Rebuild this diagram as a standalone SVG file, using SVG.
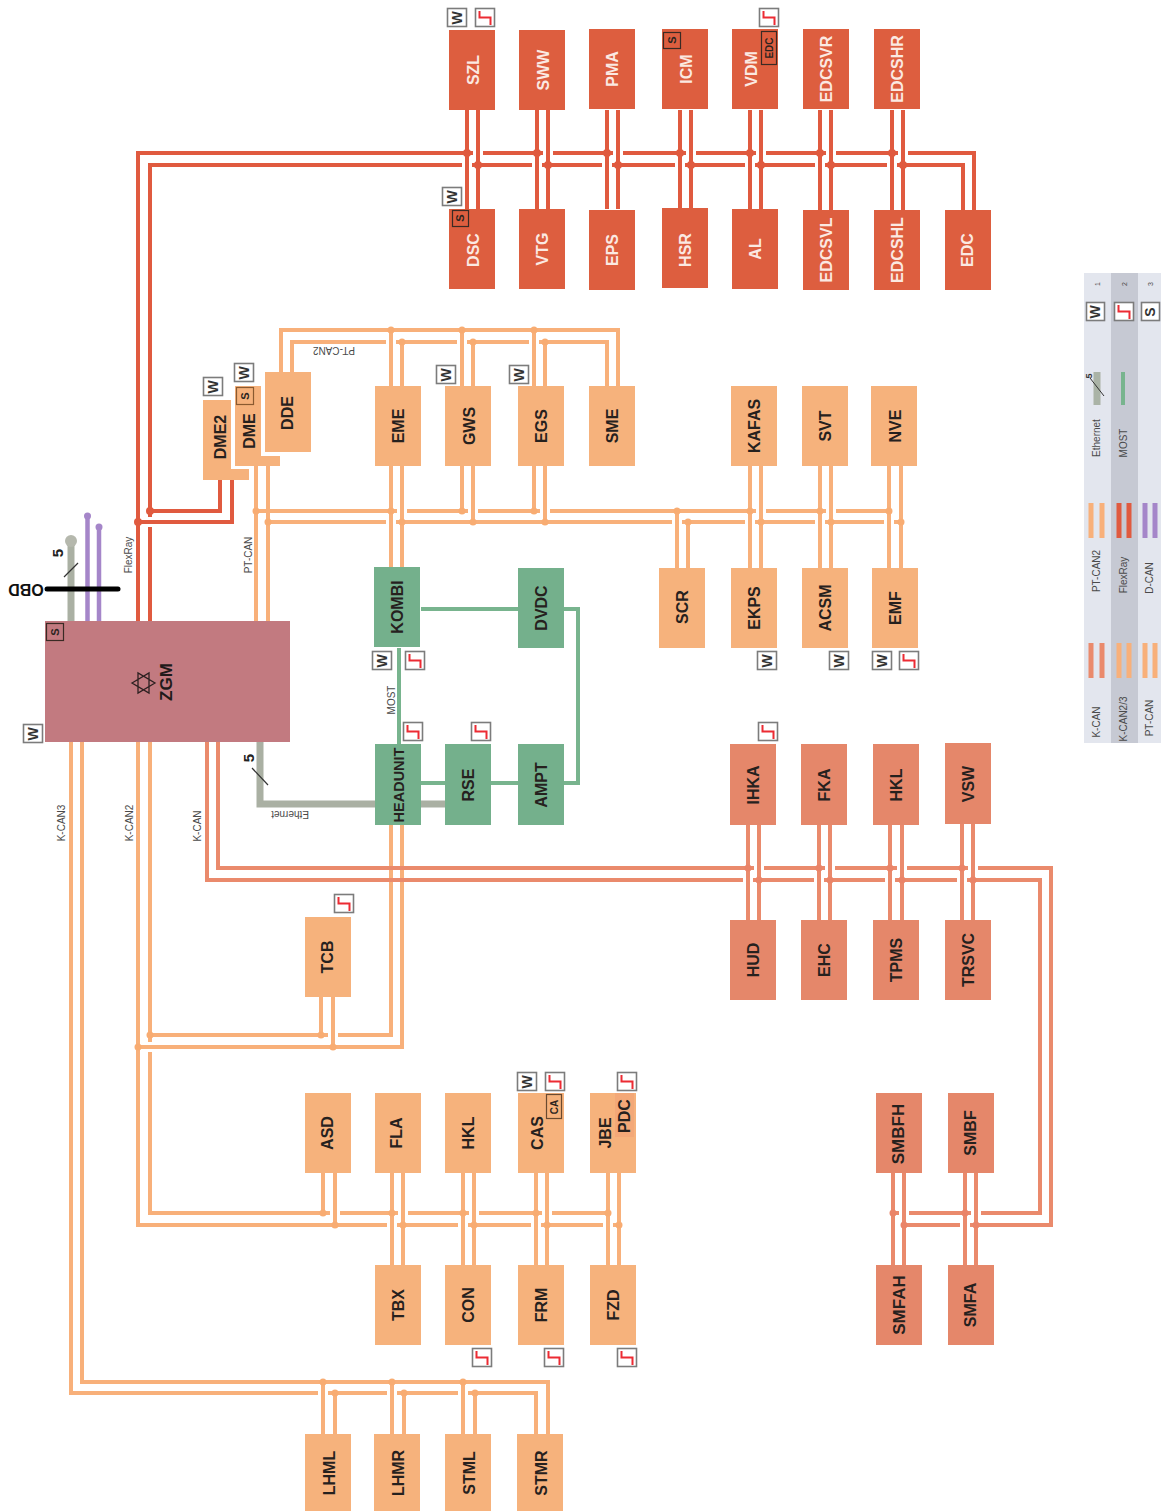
<svg xmlns="http://www.w3.org/2000/svg" width="1161" height="1511" viewBox="0 0 1161 1511">
<style>
text{font-family:"Liberation Sans",Arial,sans-serif}
.n{font-weight:700;font-size:16px;text-anchor:middle;fill:#26211e}
.nw{font-weight:700;font-size:16px;text-anchor:middle;fill:#fbe9e2}
.l{font-size:10px;text-anchor:middle;fill:#4a4a4a}
.fr{fill:#dd5e3f}.or{fill:#f6b27c}.gr{fill:#74b08c}.kc{fill:#e5876a}
.c{fill:none;stroke-width:4}
.cfr{stroke:#e05a3f}.cor{stroke:#f8b07a}.ckc{stroke:#ea8a6c}.cgr{stroke:#78b48e}
.dfr{fill:#e05a3f}.dor{fill:#f8ac72}.dkc{fill:#ea8468}
.bd{fill:#fff;stroke:#7c7c7c;stroke-width:1.6}
.bt{font-weight:700;font-size:14px;text-anchor:middle;fill:#333}
.tag{fill:none;stroke:#3a2a24;stroke-width:1.2}
.tt{font-weight:700;font-size:10px;text-anchor:middle;fill:#2c2420}
.st{fill:none;stroke:#ec2b33;stroke-width:2}
</style>
<defs>
<g id="step"><rect class="bd" x="0.5" y="0.5" width="19" height="18"/><path class="st" d="M4.5 3V9.500H15.500V17"/></g>
</defs>

<g id="legend">
<rect x="1084" y="273" width="77" height="470" fill="#e3e6ee"/>
<rect x="1111" y="273" width="27" height="470" fill="#c6c9d3"/>
<text class="l" style="font-size:7px" transform="translate(1100,284) rotate(-90)">1</text>
<text class="l" style="font-size:7px" transform="translate(1127,284) rotate(-90)">2</text>
<text class="l" style="font-size:7px" transform="translate(1153,284) rotate(-90)">3</text>
<g transform="translate(1086,302)"><rect class="bd" x="0.5" y="0.5" width="18" height="18"/><text class="bt" transform="translate(14,10) rotate(-90)">W</text></g>
<use href="#step" x="1114" y="302"/>
<g transform="translate(1141,302)"><rect class="bd" x="0.5" y="0.5" width="18" height="18"/><text class="bt" transform="translate(14,10) rotate(-90)">S</text></g>
<path d="M1097 372V405" stroke="#aab3a6" stroke-width="7" fill="none"/>
<path d="M1090 378L1104 396" stroke="#333" stroke-width="1" fill="none"/>
<text class="bt" style="font-size:9px" transform="translate(1092,376) rotate(-90)">5</text>
<path d="M1123 372V405" stroke="#78b48e" stroke-width="4" fill="none"/>
<path d="M1091 503V538M1102 503V538" stroke="#f8b07a" stroke-width="5" fill="none"/>
<path d="M1119 503V538M1129 503V538" stroke="#e05a3f" stroke-width="5" fill="none"/>
<path d="M1145 503V538M1155 503V538" stroke="#a586c9" stroke-width="5" fill="none"/>
<path d="M1091 643V678M1102 643V678" stroke="#ea8a6c" stroke-width="5" fill="none"/>
<path d="M1119 643V678M1129 643V678M1145 643V678M1155 643V678" stroke="#f8b07a" stroke-width="5" fill="none"/>
<text class="l" transform="translate(1100,438) rotate(-90)">Ethernet</text>
<text class="l" transform="translate(1127,443) rotate(-90)">MOST</text>
<text class="l" transform="translate(1100,571) rotate(-90)">PT-CAN2</text>
<text class="l" transform="translate(1127,575) rotate(-90)">FlexRay</text>
<text class="l" transform="translate(1153,578) rotate(-90)">D-CAN</text>
<text class="l" transform="translate(1100,722) rotate(-90)">K-CAN</text>
<text class="l" transform="translate(1127,719) rotate(-90)">K-CAN2/3</text>
<text class="l" transform="translate(1153,718) rotate(-90)">PT-CAN</text>
</g>

<g id="connectors">
<g id="obd">
<path d="M71 541V621" stroke="#aab0a3" stroke-width="7" fill="none"/>
<circle cx="71" cy="541" r="6" fill="#b5b8ad"/>
<path d="M87.500 516V621M99 527V621" stroke="#a586c9" stroke-width="4.500" fill="none"/>
<circle cx="87.500" cy="516" r="3.500" fill="#a586c9"/><circle cx="99" cy="527" r="3.500" fill="#a586c9"/>
<path d="M47 589H118" stroke="#000" stroke-width="5" stroke-linecap="round" fill="none"/>
<path d="M64 577L78 563" stroke="#333" stroke-width="1.200" fill="none"/>
</g>
<g id="ethernet">
<path d="M260 742V804H375M421 804H445" stroke="#aab0a3" stroke-width="7" fill="none"/>
<path d="M252 768L268 785" stroke="#333" stroke-width="1.200" fill="none"/>
</g>
<g id="most" class="c cgr">
<path d="M399 648V744M421 609H518M564 609H578V783H564M518 783H491M445 783H421"/>
</g>
<g id="flexray" class="c cfr">
<path d="M138 621V153H473M483 153H543M553 153H613M623 153H686M696 153H756M766 153H826M836 153H898M908 153H974V210"/>
<path d="M150 621V527M150 517V165H462M472 165H532M542 165H602M612 165H675M685 165H745M755 165H815M825 165H887M897 165H963V210"/>
<path d="M220 480V511H150M232 480V522H138"/>
<path d="M467 110V209M478 110V209M537 110V209M548 110V209M607 110V209M618 110V209M680 110V209M691 110V209M750 110V209M761 110V209M820 110V210M831 110V210M892 110V210M903 110V210"/>
</g>
<g class="dfr">
<circle cx="467" cy="153" r="4"/><circle cx="478" cy="165" r="4"/><circle cx="537" cy="153" r="4"/><circle cx="548" cy="165" r="4"/><circle cx="607" cy="153" r="4"/><circle cx="618" cy="165" r="4"/><circle cx="680" cy="153" r="4"/><circle cx="691" cy="165" r="4"/><circle cx="750" cy="153" r="4"/><circle cx="761" cy="165" r="4"/><circle cx="820" cy="153" r="4"/><circle cx="831" cy="165" r="4"/><circle cx="892" cy="153" r="4"/><circle cx="903" cy="165" r="4"/><circle cx="150" cy="511" r="4"/><circle cx="138" cy="522" r="4"/>
</g>
<g id="ptcan2" class="c cor">
<path d="M281 372V330H618V386"/>
<path d="M292 372V342H386M396 342H457M467 342H529M539 342H607V386"/>
<path d="M391 330V386M402 342V386M462 330V386M473 342V386M534 330V386M545 342V386"/>
</g>
<g id="ptcan" class="c cor">
<path d="M256 466V621M268 466V621"/>
<path d="M256 511H397M407 511H468M478 511H540M550 511H756M766 511H826M836 511H889"/>
<path d="M268 522H386M396 522H672M682 522H745M755 522H815M825 522H884M894 522H901"/>
<path d="M391 466V568M402 466V568M462 466V511M473 466V522M534 466V511M545 466V522M677 511V568M688 522V568M750 466V568M761 466V568M820 466V568M831 466V568M889 466V568M901 466V568"/>
</g>
<g class="dor">
<circle cx="391" cy="330" r="3.500"/><circle cx="402" cy="342" r="3.500"/><circle cx="462" cy="330" r="3.500"/><circle cx="473" cy="342" r="3.500"/><circle cx="534" cy="330" r="3.500"/><circle cx="545" cy="342" r="3.500"/>
<circle cx="256" cy="511" r="3.500"/><circle cx="268" cy="522" r="3.500"/><circle cx="391" cy="511" r="3.500"/><circle cx="402" cy="522" r="3.500"/><circle cx="462" cy="511" r="3.500"/><circle cx="473" cy="522" r="3.500"/><circle cx="534" cy="511" r="3.500"/><circle cx="545" cy="522" r="3.500"/><circle cx="677" cy="511" r="3.500"/><circle cx="688" cy="522" r="3.500"/><circle cx="750" cy="511" r="3.500"/><circle cx="761" cy="522" r="3.500"/><circle cx="820" cy="511" r="3.500"/><circle cx="831" cy="522" r="3.500"/><circle cx="889" cy="511" r="3.500"/><circle cx="901" cy="522" r="3.500"/>
</g>
<g id="kcan2" class="c cor">
<path d="M150 742V1042M150 1052V1213H330M340 1213H398M408 1213H469M479 1213H542M552 1213H608"/>
<path d="M138 742V1225H387M397 1225H458M468 1225H531M541 1225H603M613 1225H619"/>
<path d="M150 1035H328M338 1035H391V825M138 1047H402V825"/>
<path d="M321 997V1035M333 997V1047"/>
<path d="M323 1173V1213M335 1173V1225M392 1173V1265M403 1173V1265M463 1173V1265M474 1173V1265M536 1173V1265M547 1173V1265M608 1173V1265M619 1173V1265"/>
</g>
<g id="kcan3" class="c cor">
<path d="M71 742V1393H318M328 1393H387M397 1393H458M468 1393H536V1434"/>
<path d="M82 742V1382H548V1434"/>
<path d="M323 1382V1434M335 1393V1434M392 1382V1434M404 1393V1434M463 1382V1434M475 1393V1434"/>
</g>
<g class="dor">
<circle cx="150" cy="1035" r="3.500"/><circle cx="138" cy="1047" r="3.500"/><circle cx="321" cy="1035" r="3.500"/><circle cx="333" cy="1047" r="3.500"/>
<circle cx="323" cy="1213" r="3.500"/><circle cx="335" cy="1225" r="3.500"/><circle cx="392" cy="1213" r="3.500"/><circle cx="403" cy="1225" r="3.500"/><circle cx="463" cy="1213" r="3.500"/><circle cx="474" cy="1225" r="3.500"/><circle cx="536" cy="1213" r="3.500"/><circle cx="547" cy="1225" r="3.500"/><circle cx="608" cy="1213" r="3.500"/><circle cx="619" cy="1225" r="3.500"/>
<circle cx="323" cy="1382" r="3.500"/><circle cx="335" cy="1393" r="3.500"/><circle cx="392" cy="1382" r="3.500"/><circle cx="404" cy="1393" r="3.500"/><circle cx="463" cy="1382" r="3.500"/><circle cx="475" cy="1393" r="3.500"/>
</g>
<g id="kcan" class="c ckc">
<path d="M218 742V868H754M764 868H825M835 868H897M907 868H968M978 868H1051V1225H970M960 1225H904"/>
<path d="M207 742V880H743M753 880H814M824 880H885M895 880H957M967 880H1040V1213H981M971 1213H909M899 1213H893"/>
<path d="M748 824V920M759 824V920M819 824V920M830 824V920M890 824V920M902 824V920M962 824V920M973 824V920M893 1173V1265M904 1173V1265M965 1173V1265M976 1173V1265"/>
</g>
<g class="dkc">
<circle cx="748" cy="868" r="3.500"/><circle cx="759" cy="880" r="3.500"/><circle cx="819" cy="868" r="3.500"/><circle cx="830" cy="880" r="3.500"/><circle cx="890" cy="868" r="3.500"/><circle cx="902" cy="880" r="3.500"/><circle cx="962" cy="868" r="3.500"/><circle cx="973" cy="880" r="3.500"/>
<circle cx="893" cy="1213" r="3.500"/><circle cx="904" cy="1225" r="3.500"/><circle cx="965" cy="1213" r="3.500"/><circle cx="976" cy="1225" r="3.500"/>
</g>
<g id="bus-labels">
<text class="l" transform="translate(132,555) rotate(-90)">FlexRay</text>
<text class="l" transform="translate(252,555) rotate(-90)">PT-CAN</text>
<text class="l" transform="translate(65,823) rotate(-90)">K-CAN3</text>
<text class="l" transform="translate(133,823) rotate(-90)">K-CAN2</text>
<text class="l" transform="translate(201,826) rotate(-90)">K-CAN</text>
<text class="l" transform="translate(395,700) rotate(-90)">MOST</text>
<text class="l" transform="translate(290,811) rotate(180)">Ethernet</text>
<text class="l" transform="translate(334,347) rotate(180)">PT-CAN2</text>
<text font-weight="700" font-size="15" text-anchor="middle" fill="#222" transform="translate(63,553) rotate(-90)">5</text>
<text font-weight="700" font-size="15" text-anchor="middle" fill="#222" transform="translate(254,758) rotate(-90)">5</text>
<text font-weight="700" font-size="16" text-anchor="middle" fill="#111" transform="translate(26,584) rotate(180)">OBD</text>
</g>
</g>

<g id="ZGM"><rect x="45" y="621" width="245" height="121" fill="#c27a80"/>
<path d="M132 683L149 673V693ZM155 683L138 693V673Z" fill="none" stroke="#2c2020" stroke-width="1.300"/>
<text font-weight="700" font-size="17" text-anchor="middle" fill="#1f1a1a" transform="translate(172,682) rotate(-90)">ZGM</text>
<rect class="tag" x="46.500" y="623.500" width="17" height="17"/><text class="tt" style="font-size:11px" transform="translate(59,632) rotate(-90)">S</text>
<g transform="translate(23,724)"><rect class="bd" x="0.5" y="0.500" width="19" height="18"/><text class="bt" transform="translate(15,10) rotate(-90)">W</text></g>
</g>

<g id="SZL"><rect class="fr" x="449" y="30" width="46" height="80"/><text class="nw" transform="translate(479,70) rotate(-90)">SZL</text>
<g transform="translate(447,8)"><rect class="bd" x="0.5" y="0.5" width="19" height="18"/><text class="bt" transform="translate(15,10) rotate(-90)">W</text></g><use href="#step" x="475" y="8"/></g>
<g id="SWW"><rect class="fr" x="519" y="30" width="46" height="80"/><text class="nw" transform="translate(549,70) rotate(-90)">SWW</text></g>
<g id="PMA"><rect class="fr" x="589" y="29" width="46" height="80"/><text class="nw" transform="translate(618,69) rotate(-90)">PMA</text></g>
<g id="ICM"><rect class="fr" x="662" y="29" width="46" height="80"/><text class="nw" transform="translate(692,69) rotate(-90)">ICM</text>
<rect class="tag" x="663.500" y="32.500" width="17" height="16"/><text class="tt" style="font-size:11px" transform="translate(676,40) rotate(-90)">S</text></g>
<g id="VDM"><rect class="fr" x="732" y="29" width="46" height="80"/><text class="nw" transform="translate(757,69) rotate(-90)">VDM</text>
<rect class="tag" x="761.500" y="31.500" width="15" height="33"/><text class="tt" transform="translate(773,48) rotate(-90)">EDC</text><use href="#step" x="759" y="8"/></g>
<g id="EDCSVR"><rect class="fr" x="803" y="29" width="46" height="80"/><text class="nw" transform="translate(832,69) rotate(-90)">EDCSVR</text></g>
<g id="EDCSHR"><rect class="fr" x="874" y="29" width="46" height="80"/><text class="nw" transform="translate(903,69) rotate(-90)">EDCSHR</text></g>
<g id="DSC"><rect class="fr" x="449" y="209" width="46" height="80"/><text class="nw" transform="translate(479,250) rotate(-90)">DSC</text>
<rect class="tag" x="452.500" y="210.500" width="16" height="16"/><text class="tt" style="font-size:11px" transform="translate(464,218) rotate(-90)">S</text>
<g transform="translate(442,187)"><rect class="bd" x="0.5" y="0.5" width="19" height="18"/><text class="bt" transform="translate(15,10) rotate(-90)">W</text></g></g>
<g id="VTG"><rect class="fr" x="519" y="209" width="46" height="80"/><text class="nw" transform="translate(548,249) rotate(-90)">VTG</text></g>
<g id="EPS"><rect class="fr" x="589" y="210" width="46" height="80"/><text class="nw" transform="translate(618,250) rotate(-90)">EPS</text></g>
<g id="HSR"><rect class="fr" x="662" y="208" width="46" height="80"/><text class="nw" transform="translate(691,250) rotate(-90)">HSR</text></g>
<g id="AL"><rect class="fr" x="732" y="209" width="46" height="80"/><text class="nw" transform="translate(761,249) rotate(-90)">AL</text></g>
<g id="EDCSVL"><rect class="fr" x="803" y="210" width="46" height="80"/><text class="nw" transform="translate(832,250) rotate(-90)">EDCSVL</text></g>
<g id="EDCSHL"><rect class="fr" x="874" y="210" width="46" height="80"/><text class="nw" transform="translate(903,250) rotate(-90)">EDCSHL</text></g>
<g id="EDC"><rect class="fr" x="945" y="210" width="46" height="80"/><text class="nw" transform="translate(973,250) rotate(-90)">EDC</text></g>

<g id="DME2"><path class="or" d="M203 400H231V469H249V480H203Z"/><text class="n" transform="translate(226,437) rotate(-90)">DME2</text>
<g transform="translate(203,377)"><rect class="bd" x="0.5" y="0.5" width="19" height="18"/><text class="bt" transform="translate(15,10) rotate(-90)">W</text></g></g>
<g id="DME"><path class="or" d="M235 386H261V456H280V466H235Z"/><text class="n" transform="translate(255,431) rotate(-90)">DME</text>
<rect class="tag" x="236.500" y="387.500" width="17" height="17" style="stroke:#8a5a30"/><text class="tt" style="font-size:11px" transform="translate(249,396) rotate(-90)">S</text>
<g transform="translate(234,363)"><rect class="bd" x="0.5" y="0.5" width="19" height="18"/><text class="bt" transform="translate(15,10) rotate(-90)">W</text></g></g>
<g id="DDE"><rect class="or" x="265" y="372" width="46" height="80"/><text class="n" transform="translate(293,413) rotate(-90)">DDE</text></g>
<g id="EME"><rect class="or" x="375" y="386" width="46" height="80"/><text class="n" transform="translate(404,426) rotate(-90)">EME</text></g>
<g id="GWS"><rect class="or" x="445" y="386" width="46" height="80"/><text class="n" transform="translate(475,426) rotate(-90)">GWS</text>
<g transform="translate(436,365)"><rect class="bd" x="0.5" y="0.5" width="19" height="18"/><text class="bt" transform="translate(15,10) rotate(-90)">W</text></g></g>
<g id="EGS"><rect class="or" x="518" y="386" width="46" height="80"/><text class="n" transform="translate(547,426) rotate(-90)">EGS</text>
<g transform="translate(509,365)"><rect class="bd" x="0.5" y="0.5" width="19" height="18"/><text class="bt" transform="translate(15,10) rotate(-90)">W</text></g></g>
<g id="SME"><rect class="or" x="589" y="386" width="46" height="80"/><text class="n" transform="translate(618,426) rotate(-90)">SME</text></g>
<g id="KAFAS"><rect class="or" x="731" y="386" width="46" height="80"/><text class="n" transform="translate(760,426) rotate(-90)">KAFAS</text></g>
<g id="SVT"><rect class="or" x="802" y="386" width="46" height="80"/><text class="n" transform="translate(831,426) rotate(-90)">SVT</text></g>
<g id="NVE"><rect class="or" x="871" y="386" width="46" height="80"/><text class="n" transform="translate(901,426) rotate(-90)">NVE</text></g>
<g id="SCR"><rect class="or" x="659" y="568" width="46" height="80"/><text class="n" transform="translate(688,607) rotate(-90)">SCR</text></g>
<g id="EKPS"><rect class="or" x="731" y="568" width="46" height="80"/><text class="n" transform="translate(760,608) rotate(-90)">EKPS</text>
<g transform="translate(757,651)"><rect class="bd" x="0.5" y="0.5" width="19" height="18"/><text class="bt" transform="translate(15,10) rotate(-90)">W</text></g></g>
<g id="ACSM"><rect class="or" x="802" y="568" width="46" height="80"/><text class="n" transform="translate(831,608) rotate(-90)">ACSM</text>
<g transform="translate(829,651)"><rect class="bd" x="0.5" y="0.5" width="19" height="18"/><text class="bt" transform="translate(15,10) rotate(-90)">W</text></g></g>
<g id="EMF"><rect class="or" x="872" y="568" width="46" height="80"/><text class="n" transform="translate(901,608) rotate(-90)">EMF</text>
<g transform="translate(872,651)"><rect class="bd" x="0.5" y="0.5" width="19" height="18"/><text class="bt" transform="translate(15,10) rotate(-90)">W</text></g><use href="#step" x="899" y="651"/></g>

<g id="KOMBI"><rect class="gr" x="374" y="567" width="46" height="80"/><text class="n" transform="translate(403,607) rotate(-90)">KOMBI</text>
<g transform="translate(372,651)"><rect class="bd" x="0.5" y="0.5" width="19" height="18"/><text class="bt" transform="translate(15,10) rotate(-90)">W</text></g><use href="#step" x="405" y="651"/></g>
<g id="DVDC"><rect class="gr" x="518" y="568" width="46" height="80"/><text class="n" transform="translate(547,608) rotate(-90)">DVDC</text></g>
<g id="HEADUNIT"><rect class="gr" x="375" y="744" width="46" height="81"/><text class="n" style="font-size:14.500px" transform="translate(404,785) rotate(-90)">HEADUNIT</text><use href="#step" x="403" y="722"/></g>
<g id="RSE"><rect class="gr" x="445" y="744" width="46" height="81"/><text class="n" transform="translate(474,785) rotate(-90)">RSE</text><use href="#step" x="471" y="722"/></g>
<g id="AMPT"><rect class="gr" x="518" y="744" width="46" height="81"/><text class="n" transform="translate(547,785) rotate(-90)">AMPT</text></g>

<g id="IHKA"><rect class="kc" x="730" y="744" width="46" height="81"/><text class="n" transform="translate(759,785) rotate(-90)">IHKA</text><use href="#step" x="758" y="722"/></g>
<g id="FKA"><rect class="kc" x="801" y="744" width="46" height="81"/><text class="n" transform="translate(830,785) rotate(-90)">FKA</text></g>
<g id="HKL1"><rect class="kc" x="873" y="744" width="46" height="81"/><text class="n" transform="translate(902,785) rotate(-90)">HKL</text></g>
<g id="VSW"><rect class="kc" x="945" y="743" width="46" height="81"/><text class="n" transform="translate(974,784) rotate(-90)">VSW</text></g>
<g id="HUD"><rect class="kc" x="730" y="920" width="46" height="80"/><text class="n" transform="translate(759,960) rotate(-90)">HUD</text></g>
<g id="EHC"><rect class="kc" x="801" y="920" width="46" height="80"/><text class="n" transform="translate(830,960) rotate(-90)">EHC</text></g>
<g id="TPMS"><rect class="kc" x="873" y="920" width="46" height="80"/><text class="n" transform="translate(902,960) rotate(-90)">TPMS</text></g>
<g id="TRSVC"><rect class="kc" x="945" y="920" width="46" height="80"/><text class="n" transform="translate(974,960) rotate(-90)">TRSVC</text></g>
<g id="SMBFH"><rect class="kc" x="876" y="1093" width="46" height="80"/><text class="n" style="font-size:17px" transform="translate(904,1134) rotate(-90)">SMBFH</text></g>
<g id="SMBF"><rect class="kc" x="948" y="1093" width="46" height="80"/><text class="n" transform="translate(976,1133) rotate(-90)">SMBF</text></g>
<g id="SMFAH"><rect class="kc" x="876" y="1265" width="46" height="80"/><text class="n" style="font-size:17px" transform="translate(905,1305) rotate(-90)">SMFAH</text></g>
<g id="SMFA"><rect class="kc" x="948" y="1265" width="46" height="80"/><text class="n" transform="translate(976,1305) rotate(-90)">SMFA</text></g>

<g id="TCB"><rect class="or" x="305" y="917" width="46" height="80"/><text class="n" transform="translate(333,957) rotate(-90)">TCB</text><use href="#step" x="334" y="894"/></g>
<g id="ASD"><rect class="or" x="305" y="1093" width="46" height="80"/><text class="n" transform="translate(333,1133) rotate(-90)">ASD</text></g>
<g id="FLA"><rect class="or" x="375" y="1093" width="46" height="80"/><text class="n" transform="translate(402,1133) rotate(-90)">FLA</text></g>
<g id="HKL2"><rect class="or" x="445" y="1093" width="46" height="80"/><text class="n" transform="translate(474,1133) rotate(-90)">HKL</text></g>
<g id="CAS"><rect class="or" x="518" y="1093" width="46" height="80"/><text class="n" transform="translate(543,1133) rotate(-90)">CAS</text>
<rect class="tag" x="546.500" y="1094.500" width="15" height="24" style="stroke:#6a4a30"/><text class="tt" transform="translate(558,1107) rotate(-90)">CA</text>
<g transform="translate(517,1072)"><rect class="bd" x="0.5" y="0.5" width="19" height="18"/><text class="bt" transform="translate(15,10) rotate(-90)">W</text></g><use href="#step" x="545" y="1072"/></g>
<g id="JBE"><rect class="or" x="590" y="1093" width="46" height="80"/><rect x="615" y="1093" width="19" height="44" fill="#f3a878"/>
<text class="n" transform="translate(611,1133) rotate(-90)">JBE</text><text class="n" transform="translate(630,1116) rotate(-90)">PDC</text><use href="#step" x="617" y="1072"/></g>
<g id="TBX"><rect class="or" x="375" y="1265" width="46" height="80"/><text class="n" transform="translate(404,1305) rotate(-90)">TBX</text></g>
<g id="CON"><rect class="or" x="445" y="1265" width="46" height="80"/><text class="n" transform="translate(474,1305) rotate(-90)">CON</text><use href="#step" x="472" y="1348"/></g>
<g id="FRM"><rect class="or" x="518" y="1265" width="46" height="80"/><text class="n" transform="translate(547,1305) rotate(-90)">FRM</text><use href="#step" x="544" y="1348"/></g>
<g id="FZD"><rect class="or" x="590" y="1265" width="46" height="80"/><text class="n" transform="translate(619,1305) rotate(-90)">FZD</text><use href="#step" x="617" y="1348"/></g>
<g id="LHML"><rect class="or" x="305" y="1434" width="46" height="80"/><text class="n" transform="translate(335,1473) rotate(-90)">LHML</text></g>
<g id="LHMR"><rect class="or" x="374" y="1434" width="46" height="80"/><text class="n" transform="translate(404,1473) rotate(-90)">LHMR</text></g>
<g id="STML"><rect class="or" x="445" y="1434" width="46" height="80"/><text class="n" transform="translate(475,1473) rotate(-90)">STML</text></g>
<g id="STMR"><rect class="or" x="517" y="1434" width="46" height="80"/><text class="n" transform="translate(547,1473) rotate(-90)">STMR</text></g>
</svg>
